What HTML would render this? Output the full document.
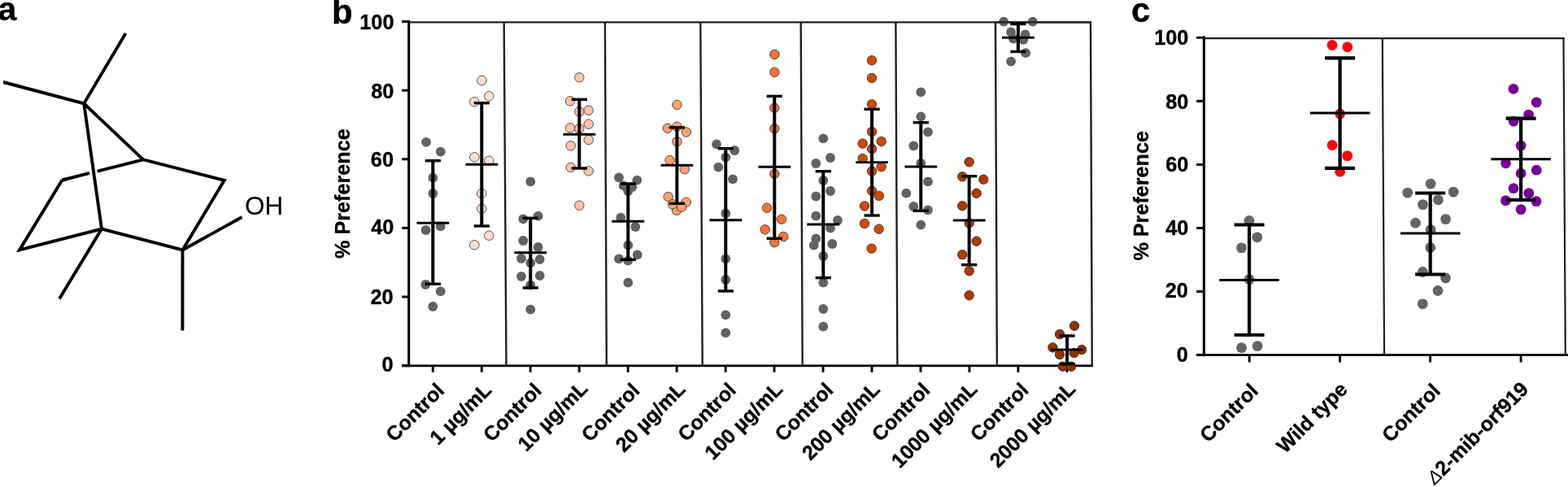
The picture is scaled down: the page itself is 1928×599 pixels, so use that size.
<!DOCTYPE html>
<html><head><meta charset="utf-8"><title>Figure</title>
<style>
html,body{margin:0;padding:0;background:#fff;overflow:hidden;}
svg{display:block;}
text{font-family:"Liberation Sans", Arial, Helvetica, sans-serif;fill:#000;}
text[font-weight="bold"]{stroke:#000;stroke-width:0.35px;stroke-linejoin:round;}
tspan{stroke-width:0;}
</style></head><body>
<svg width="1928" height="599" viewBox="0 0 1928 599">
<rect width="1928" height="599" fill="#fff"/>
<polyline points="4.00,101.00 103.20,127.30 176.10,196.30 275.80,221.80 224.50,307.50 125.00,281.50 24.00,307.50 76.40,221.50" fill="none" stroke="#000" stroke-width="3.9" stroke-linejoin="miter" stroke-miterlimit="10" stroke-linecap="butt"/>
<polyline points="76.40,221.50 110.20,212.96" fill="none" stroke="#000" stroke-width="3.9" stroke-linejoin="miter" stroke-miterlimit="10" stroke-linecap="butt"/>
<polyline points="119.60,210.58 176.10,196.30" fill="none" stroke="#000" stroke-width="3.9" stroke-linejoin="miter" stroke-miterlimit="10" stroke-linecap="butt"/>
<polyline points="154.50,41.00 103.20,127.30 125.00,281.50" fill="none" stroke="#000" stroke-width="3.9" stroke-linejoin="miter" stroke-miterlimit="10" stroke-linecap="butt"/>
<polyline points="125.00,281.50 73.00,367.50" fill="none" stroke="#000" stroke-width="3.9" stroke-linejoin="miter" stroke-miterlimit="10" stroke-linecap="butt"/>
<polyline points="224.50,307.50 224.40,406.40" fill="none" stroke="#000" stroke-width="3.9" stroke-linejoin="miter" stroke-miterlimit="10" stroke-linecap="butt"/>
<polyline points="224.50,307.50 297.50,267.00" fill="none" stroke="#000" stroke-width="3.9" stroke-linejoin="miter" stroke-miterlimit="10" stroke-linecap="butt"/>
<polyline points="76.40,221.50 81.39,220.24" fill="none" stroke="#000" stroke-width="3.9" stroke-linejoin="miter" stroke-miterlimit="10" stroke-linecap="butt"/>
<text x="-2.50" y="25.05" font-size="41" font-weight="bold" text-anchor="start" >a</text>
<text x="301.00" y="264.00" font-size="31.5" font-weight="normal" text-anchor="start" >OH</text>
<line x1="502.70" y1="25.00" x2="502.70" y2="451.20" stroke="#000" stroke-width="3.1" stroke-linecap="butt"/>
<line x1="494.20" y1="449.70" x2="502.70" y2="449.70" stroke="#000" stroke-width="3.0" stroke-linecap="butt"/>
<line x1="494.20" y1="365.06" x2="502.70" y2="365.06" stroke="#000" stroke-width="3.0" stroke-linecap="butt"/>
<line x1="494.20" y1="280.42" x2="502.70" y2="280.42" stroke="#000" stroke-width="3.0" stroke-linecap="butt"/>
<line x1="494.20" y1="195.78" x2="502.70" y2="195.78" stroke="#000" stroke-width="3.0" stroke-linecap="butt"/>
<line x1="494.20" y1="111.14" x2="502.70" y2="111.14" stroke="#000" stroke-width="3.0" stroke-linecap="butt"/>
<line x1="494.20" y1="26.50" x2="502.70" y2="26.50" stroke="#000" stroke-width="3.0" stroke-linecap="butt"/>
<line x1="494.20" y1="449.80" x2="1344.00" y2="449.80" stroke="#000" stroke-width="2.8" stroke-linecap="butt"/>
<line x1="532.30" y1="449.80" x2="532.30" y2="457.90" stroke="#000" stroke-width="2.9" stroke-linecap="butt"/>
<line x1="592.27" y1="449.80" x2="592.27" y2="457.90" stroke="#000" stroke-width="2.9" stroke-linecap="butt"/>
<line x1="652.24" y1="449.80" x2="652.24" y2="457.90" stroke="#000" stroke-width="2.9" stroke-linecap="butt"/>
<line x1="712.21" y1="449.80" x2="712.21" y2="457.90" stroke="#000" stroke-width="2.9" stroke-linecap="butt"/>
<line x1="772.18" y1="449.80" x2="772.18" y2="457.90" stroke="#000" stroke-width="2.9" stroke-linecap="butt"/>
<line x1="832.15" y1="449.80" x2="832.15" y2="457.90" stroke="#000" stroke-width="2.9" stroke-linecap="butt"/>
<line x1="892.12" y1="449.80" x2="892.12" y2="457.90" stroke="#000" stroke-width="2.9" stroke-linecap="butt"/>
<line x1="952.09" y1="449.80" x2="952.09" y2="457.90" stroke="#000" stroke-width="2.9" stroke-linecap="butt"/>
<line x1="1012.06" y1="449.80" x2="1012.06" y2="457.90" stroke="#000" stroke-width="2.9" stroke-linecap="butt"/>
<line x1="1072.03" y1="449.80" x2="1072.03" y2="457.90" stroke="#000" stroke-width="2.9" stroke-linecap="butt"/>
<line x1="1132.00" y1="449.80" x2="1132.00" y2="457.90" stroke="#000" stroke-width="2.9" stroke-linecap="butt"/>
<line x1="1191.97" y1="449.80" x2="1191.97" y2="457.90" stroke="#000" stroke-width="2.9" stroke-linecap="butt"/>
<line x1="1251.94" y1="449.80" x2="1251.94" y2="457.90" stroke="#000" stroke-width="2.9" stroke-linecap="butt"/>
<line x1="1311.91" y1="449.80" x2="1311.91" y2="457.90" stroke="#000" stroke-width="2.9" stroke-linecap="butt"/>
<line x1="504.20" y1="27.4" x2="1342.0" y2="27.4" stroke="#231f20" stroke-width="2.4"/>
<line x1="619.7" y1="27.4" x2="622.5" y2="449.0" stroke="#231f20" stroke-width="2.4"/>
<line x1="743.9" y1="27.4" x2="745.8" y2="449.0" stroke="#231f20" stroke-width="2.4"/>
<line x1="861.3" y1="27.4" x2="863.7" y2="449.0" stroke="#231f20" stroke-width="2.4"/>
<line x1="984.7" y1="27.4" x2="986.7" y2="449.0" stroke="#231f20" stroke-width="2.4"/>
<line x1="1101.4" y1="27.4" x2="1103.4" y2="449.0" stroke="#231f20" stroke-width="2.4"/>
<line x1="1224.0" y1="27.4" x2="1225.9" y2="449.0" stroke="#231f20" stroke-width="2.4"/>
<line x1="1341.0" y1="27.4" x2="1342.8" y2="449.0" stroke="#231f20" stroke-width="2.4"/>
<circle cx="524.0" cy="174.8" r="5.9" fill="#626262"/>
<circle cx="541.8" cy="186.6" r="5.9" fill="#626262"/>
<circle cx="532.3" cy="218.7" r="5.9" fill="#626262"/>
<circle cx="532.3" cy="238.0" r="5.9" fill="#626262"/>
<circle cx="523.6" cy="283.0" r="5.9" fill="#626262"/>
<circle cx="541.7" cy="278.3" r="5.9" fill="#626262"/>
<circle cx="523.3" cy="350.0" r="5.9" fill="#626262"/>
<circle cx="541.7" cy="358.3" r="5.9" fill="#626262"/>
<circle cx="532.3" cy="377.0" r="5.9" fill="#626262"/>
<circle cx="592.5" cy="99.0" r="5.75" fill="#fde0d3" stroke="#231f20" stroke-width="0.75"/>
<circle cx="601.3" cy="118.3" r="5.75" fill="#fde0d3" stroke="#231f20" stroke-width="0.75"/>
<circle cx="583.3" cy="125.3" r="5.75" fill="#fde0d3" stroke="#231f20" stroke-width="0.75"/>
<circle cx="583.3" cy="193.3" r="5.75" fill="#fde0d3" stroke="#231f20" stroke-width="0.75"/>
<circle cx="601.3" cy="197.7" r="5.75" fill="#fde0d3" stroke="#231f20" stroke-width="0.75"/>
<circle cx="592.3" cy="238.0" r="5.75" fill="#fde0d3" stroke="#231f20" stroke-width="0.75"/>
<circle cx="592.3" cy="256.7" r="5.75" fill="#fde0d3" stroke="#231f20" stroke-width="0.75"/>
<circle cx="601.3" cy="289.7" r="5.75" fill="#fde0d3" stroke="#231f20" stroke-width="0.75"/>
<circle cx="583.3" cy="301.3" r="5.75" fill="#fde0d3" stroke="#231f20" stroke-width="0.75"/>
<circle cx="652.3" cy="223.3" r="5.9" fill="#626262"/>
<circle cx="643.3" cy="269.3" r="5.9" fill="#626262"/>
<circle cx="661.7" cy="265.7" r="5.9" fill="#626262"/>
<circle cx="643.3" cy="296.0" r="5.9" fill="#626262"/>
<circle cx="661.7" cy="304.0" r="5.9" fill="#626262"/>
<circle cx="641.0" cy="318.0" r="5.9" fill="#626262"/>
<circle cx="663.7" cy="319.0" r="5.9" fill="#626262"/>
<circle cx="652.3" cy="323.3" r="5.9" fill="#626262"/>
<circle cx="641.0" cy="340.0" r="5.9" fill="#626262"/>
<circle cx="663.7" cy="339.0" r="5.9" fill="#626262"/>
<circle cx="652.3" cy="350.7" r="5.9" fill="#626262"/>
<circle cx="652.3" cy="380.7" r="5.9" fill="#626262"/>
<circle cx="712.3" cy="95.3" r="5.75" fill="#fdc4a8" stroke="#231f20" stroke-width="0.75"/>
<circle cx="701.0" cy="124.3" r="5.75" fill="#fdc4a8" stroke="#231f20" stroke-width="0.75"/>
<circle cx="712.3" cy="137.3" r="5.75" fill="#fdc4a8" stroke="#231f20" stroke-width="0.75"/>
<circle cx="723.7" cy="135.7" r="5.75" fill="#fdc4a8" stroke="#231f20" stroke-width="0.75"/>
<circle cx="723.7" cy="152.7" r="5.75" fill="#fdc4a8" stroke="#231f20" stroke-width="0.75"/>
<circle cx="701.0" cy="157.3" r="5.75" fill="#fdc4a8" stroke="#231f20" stroke-width="0.75"/>
<circle cx="712.3" cy="158.3" r="5.75" fill="#fdc4a8" stroke="#231f20" stroke-width="0.75"/>
<circle cx="723.7" cy="172.0" r="5.75" fill="#fdc4a8" stroke="#231f20" stroke-width="0.75"/>
<circle cx="701.7" cy="179.3" r="5.75" fill="#fdc4a8" stroke="#231f20" stroke-width="0.75"/>
<circle cx="701.7" cy="206.0" r="5.75" fill="#fdc4a8" stroke="#231f20" stroke-width="0.75"/>
<circle cx="723.7" cy="210.3" r="5.75" fill="#fdc4a8" stroke="#231f20" stroke-width="0.75"/>
<circle cx="712.3" cy="252.7" r="5.75" fill="#fdc4a8" stroke="#231f20" stroke-width="0.75"/>
<circle cx="761.0" cy="218.3" r="5.9" fill="#626262"/>
<circle cx="783.3" cy="221.7" r="5.9" fill="#626262"/>
<circle cx="766.7" cy="228.3" r="5.9" fill="#626262"/>
<circle cx="777.3" cy="230.0" r="5.9" fill="#626262"/>
<circle cx="772.3" cy="235.0" r="5.9" fill="#626262"/>
<circle cx="763.3" cy="267.7" r="5.9" fill="#626262"/>
<circle cx="781.3" cy="279.0" r="5.9" fill="#626262"/>
<circle cx="772.3" cy="301.7" r="5.9" fill="#626262"/>
<circle cx="761.0" cy="318.3" r="5.9" fill="#626262"/>
<circle cx="783.7" cy="313.3" r="5.9" fill="#626262"/>
<circle cx="772.3" cy="320.7" r="5.9" fill="#626262"/>
<circle cx="772.3" cy="347.7" r="5.9" fill="#626262"/>
<circle cx="832.4" cy="128.9" r="5.75" fill="#f9a070" stroke="#231f20" stroke-width="0.75"/>
<circle cx="820.8" cy="157.7" r="5.75" fill="#f9a070" stroke="#231f20" stroke-width="0.75"/>
<circle cx="832.4" cy="155.7" r="5.75" fill="#f9a070" stroke="#231f20" stroke-width="0.75"/>
<circle cx="843.8" cy="162.5" r="5.75" fill="#f9a070" stroke="#231f20" stroke-width="0.75"/>
<circle cx="832.4" cy="174.2" r="5.75" fill="#f9a070" stroke="#231f20" stroke-width="0.75"/>
<circle cx="823.5" cy="197.2" r="5.75" fill="#f9a070" stroke="#231f20" stroke-width="0.75"/>
<circle cx="841.8" cy="208.3" r="5.75" fill="#f9a070" stroke="#231f20" stroke-width="0.75"/>
<circle cx="821.7" cy="242.0" r="5.75" fill="#f9a070" stroke="#231f20" stroke-width="0.75"/>
<circle cx="843.7" cy="248.7" r="5.75" fill="#f9a070" stroke="#231f20" stroke-width="0.75"/>
<circle cx="832.0" cy="258.7" r="5.75" fill="#f9a070" stroke="#231f20" stroke-width="0.75"/>
<circle cx="827.0" cy="251.3" r="5.75" fill="#f9a070" stroke="#231f20" stroke-width="0.75"/>
<circle cx="838.0" cy="254.7" r="5.75" fill="#f9a070" stroke="#231f20" stroke-width="0.75"/>
<circle cx="881.0" cy="177.3" r="5.9" fill="#626262"/>
<circle cx="903.3" cy="185.0" r="5.9" fill="#626262"/>
<circle cx="892.3" cy="193.3" r="5.9" fill="#626262"/>
<circle cx="883.3" cy="205.7" r="5.9" fill="#626262"/>
<circle cx="901.0" cy="220.3" r="5.9" fill="#626262"/>
<circle cx="892.3" cy="262.3" r="5.9" fill="#626262"/>
<circle cx="892.3" cy="318.3" r="5.9" fill="#626262"/>
<circle cx="892.3" cy="344.0" r="5.9" fill="#626262"/>
<circle cx="892.3" cy="387.3" r="5.9" fill="#626262"/>
<circle cx="892.3" cy="409.3" r="5.9" fill="#626262"/>
<circle cx="952.4" cy="66.9" r="5.75" fill="#f47334" stroke="#231f20" stroke-width="0.75"/>
<circle cx="952.4" cy="88.8" r="5.75" fill="#f47334" stroke="#231f20" stroke-width="0.75"/>
<circle cx="952.3" cy="132.7" r="5.75" fill="#f47334" stroke="#231f20" stroke-width="0.75"/>
<circle cx="952.3" cy="158.3" r="5.75" fill="#f47334" stroke="#231f20" stroke-width="0.75"/>
<circle cx="952.3" cy="213.7" r="5.75" fill="#f47334" stroke="#231f20" stroke-width="0.75"/>
<circle cx="943.0" cy="255.7" r="5.75" fill="#f47334" stroke="#231f20" stroke-width="0.75"/>
<circle cx="961.0" cy="269.7" r="5.75" fill="#f47334" stroke="#231f20" stroke-width="0.75"/>
<circle cx="940.7" cy="282.3" r="5.75" fill="#f47334" stroke="#231f20" stroke-width="0.75"/>
<circle cx="963.3" cy="291.0" r="5.75" fill="#f47334" stroke="#231f20" stroke-width="0.75"/>
<circle cx="952.3" cy="298.3" r="5.75" fill="#f47334" stroke="#231f20" stroke-width="0.75"/>
<circle cx="1012.3" cy="170.3" r="5.9" fill="#626262"/>
<circle cx="1021.0" cy="194.0" r="5.9" fill="#626262"/>
<circle cx="1003.3" cy="201.0" r="5.9" fill="#626262"/>
<circle cx="1012.3" cy="222.0" r="5.9" fill="#626262"/>
<circle cx="1021.0" cy="235.0" r="5.9" fill="#626262"/>
<circle cx="1003.3" cy="241.5" r="5.9" fill="#626262"/>
<circle cx="1003.3" cy="265.7" r="5.9" fill="#626262"/>
<circle cx="1030.0" cy="271.0" r="5.9" fill="#626262"/>
<circle cx="1021.0" cy="280.7" r="5.9" fill="#626262"/>
<circle cx="1003.3" cy="293.3" r="5.9" fill="#626262"/>
<circle cx="1000.7" cy="301.7" r="5.9" fill="#626262"/>
<circle cx="1023.3" cy="300.0" r="5.9" fill="#626262"/>
<circle cx="1012.3" cy="315.0" r="5.9" fill="#626262"/>
<circle cx="1012.3" cy="347.7" r="5.9" fill="#626262"/>
<circle cx="1012.3" cy="380.0" r="5.9" fill="#626262"/>
<circle cx="1012.3" cy="401.7" r="5.9" fill="#626262"/>
<circle cx="1072.0" cy="74.3" r="5.75" fill="#cf4a05" stroke="#231f20" stroke-width="0.75"/>
<circle cx="1072.0" cy="96.0" r="5.75" fill="#cf4a05" stroke="#231f20" stroke-width="0.75"/>
<circle cx="1072.0" cy="128.3" r="5.75" fill="#cf4a05" stroke="#231f20" stroke-width="0.75"/>
<circle cx="1072.1" cy="161.9" r="5.75" fill="#cf4a05" stroke="#231f20" stroke-width="0.75"/>
<circle cx="1083.7" cy="173.9" r="5.75" fill="#cf4a05" stroke="#231f20" stroke-width="0.75"/>
<circle cx="1060.7" cy="176.6" r="5.75" fill="#cf4a05" stroke="#231f20" stroke-width="0.75"/>
<circle cx="1072.1" cy="183.1" r="5.75" fill="#cf4a05" stroke="#231f20" stroke-width="0.75"/>
<circle cx="1060.7" cy="195.0" r="5.75" fill="#cf4a05" stroke="#231f20" stroke-width="0.75"/>
<circle cx="1083.7" cy="205.1" r="5.75" fill="#cf4a05" stroke="#231f20" stroke-width="0.75"/>
<circle cx="1072.1" cy="210.6" r="5.75" fill="#cf4a05" stroke="#231f20" stroke-width="0.75"/>
<circle cx="1072.1" cy="234.8" r="5.75" fill="#cf4a05" stroke="#231f20" stroke-width="0.75"/>
<circle cx="1080.8" cy="240.9" r="5.75" fill="#cf4a05" stroke="#231f20" stroke-width="0.75"/>
<circle cx="1063.0" cy="253.4" r="5.75" fill="#cf4a05" stroke="#231f20" stroke-width="0.75"/>
<circle cx="1063.0" cy="275.0" r="5.75" fill="#cf4a05" stroke="#231f20" stroke-width="0.75"/>
<circle cx="1080.7" cy="281.7" r="5.75" fill="#cf4a05" stroke="#231f20" stroke-width="0.75"/>
<circle cx="1071.7" cy="305.7" r="5.75" fill="#cf4a05" stroke="#231f20" stroke-width="0.75"/>
<circle cx="1132.3" cy="113.3" r="5.9" fill="#626262"/>
<circle cx="1132.3" cy="143.3" r="5.9" fill="#626262"/>
<circle cx="1141.0" cy="162.3" r="5.9" fill="#626262"/>
<circle cx="1123.3" cy="179.3" r="5.9" fill="#626262"/>
<circle cx="1132.3" cy="200.7" r="5.9" fill="#626262"/>
<circle cx="1141.0" cy="223.3" r="5.9" fill="#626262"/>
<circle cx="1114.3" cy="237.7" r="5.9" fill="#626262"/>
<circle cx="1123.3" cy="254.0" r="5.9" fill="#626262"/>
<circle cx="1141.0" cy="258.3" r="5.9" fill="#626262"/>
<circle cx="1132.3" cy="276.7" r="5.9" fill="#626262"/>
<circle cx="1191.7" cy="199.3" r="5.75" fill="#ad3b00" stroke="#231f20" stroke-width="0.75"/>
<circle cx="1183.3" cy="217.3" r="5.75" fill="#ad3b00" stroke="#231f20" stroke-width="0.75"/>
<circle cx="1209.3" cy="220.7" r="5.75" fill="#ad3b00" stroke="#231f20" stroke-width="0.75"/>
<circle cx="1200.7" cy="237.7" r="5.75" fill="#ad3b00" stroke="#231f20" stroke-width="0.75"/>
<circle cx="1183.3" cy="253.2" r="5.75" fill="#ad3b00" stroke="#231f20" stroke-width="0.75"/>
<circle cx="1191.7" cy="274.5" r="5.75" fill="#ad3b00" stroke="#231f20" stroke-width="0.75"/>
<circle cx="1200.7" cy="296.7" r="5.75" fill="#ad3b00" stroke="#231f20" stroke-width="0.75"/>
<circle cx="1183.3" cy="313.3" r="5.75" fill="#ad3b00" stroke="#231f20" stroke-width="0.75"/>
<circle cx="1191.7" cy="333.3" r="5.75" fill="#ad3b00" stroke="#231f20" stroke-width="0.75"/>
<circle cx="1191.7" cy="363.3" r="5.75" fill="#ad3b00" stroke="#231f20" stroke-width="0.75"/>
<circle cx="1234.1" cy="26.7" r="5.9" fill="#626262"/>
<circle cx="1269.7" cy="26.7" r="5.9" fill="#626262"/>
<circle cx="1243.1" cy="39.5" r="5.9" fill="#626262"/>
<circle cx="1260.6" cy="42.5" r="5.9" fill="#626262"/>
<circle cx="1246.0" cy="47.7" r="5.9" fill="#626262"/>
<circle cx="1258.3" cy="48.9" r="5.9" fill="#626262"/>
<circle cx="1261.2" cy="65.2" r="5.9" fill="#626262"/>
<circle cx="1243.1" cy="75.7" r="5.9" fill="#626262"/>
<circle cx="1321.0" cy="400.7" r="5.75" fill="#933200" stroke="#231f20" stroke-width="0.75"/>
<circle cx="1303.0" cy="411.1" r="5.75" fill="#933200" stroke="#231f20" stroke-width="0.75"/>
<circle cx="1294.4" cy="427.4" r="5.75" fill="#933200" stroke="#231f20" stroke-width="0.75"/>
<circle cx="1330.1" cy="430.1" r="5.75" fill="#933200" stroke="#231f20" stroke-width="0.75"/>
<circle cx="1303.0" cy="436.1" r="5.75" fill="#933200" stroke="#231f20" stroke-width="0.75"/>
<circle cx="1320.7" cy="434.1" r="5.75" fill="#933200" stroke="#231f20" stroke-width="0.75"/>
<circle cx="1306.7" cy="450.8" r="5.75" fill="#933200" stroke="#231f20" stroke-width="0.75"/>
<circle cx="1317.1" cy="450.8" r="5.75" fill="#933200" stroke="#231f20" stroke-width="0.75"/>
<line x1="1225" y1="27.4" x2="1342.0" y2="27.4" stroke="#231f20" stroke-width="2.4"/>
<line x1="532.30" y1="197.70" x2="532.30" y2="349.30" stroke="#000" stroke-width="4.0" stroke-linecap="butt"/>
<line x1="522.70" y1="197.70" x2="541.90" y2="197.70" stroke="#000" stroke-width="3.4" stroke-linecap="butt"/>
<line x1="522.70" y1="349.30" x2="541.90" y2="349.30" stroke="#000" stroke-width="3.4" stroke-linecap="butt"/>
<line x1="512.40" y1="274.20" x2="552.20" y2="274.20" stroke="#000" stroke-width="2.9" stroke-linecap="butt"/>
<line x1="592.30" y1="126.70" x2="592.30" y2="278.00" stroke="#000" stroke-width="4.0" stroke-linecap="butt"/>
<line x1="582.70" y1="126.70" x2="601.90" y2="126.70" stroke="#000" stroke-width="3.4" stroke-linecap="butt"/>
<line x1="582.70" y1="278.00" x2="601.90" y2="278.00" stroke="#000" stroke-width="3.4" stroke-linecap="butt"/>
<line x1="572.40" y1="202.30" x2="612.20" y2="202.30" stroke="#000" stroke-width="2.9" stroke-linecap="butt"/>
<line x1="652.30" y1="268.30" x2="652.30" y2="354.00" stroke="#000" stroke-width="4.0" stroke-linecap="butt"/>
<line x1="642.70" y1="268.30" x2="661.90" y2="268.30" stroke="#000" stroke-width="3.4" stroke-linecap="butt"/>
<line x1="642.70" y1="354.00" x2="661.90" y2="354.00" stroke="#000" stroke-width="3.4" stroke-linecap="butt"/>
<line x1="632.40" y1="310.70" x2="672.20" y2="310.70" stroke="#000" stroke-width="2.9" stroke-linecap="butt"/>
<line x1="712.30" y1="122.30" x2="712.30" y2="207.00" stroke="#000" stroke-width="4.0" stroke-linecap="butt"/>
<line x1="702.70" y1="122.30" x2="721.90" y2="122.30" stroke="#000" stroke-width="3.4" stroke-linecap="butt"/>
<line x1="702.70" y1="207.00" x2="721.90" y2="207.00" stroke="#000" stroke-width="3.4" stroke-linecap="butt"/>
<line x1="692.40" y1="165.30" x2="732.20" y2="165.30" stroke="#000" stroke-width="2.9" stroke-linecap="butt"/>
<line x1="772.30" y1="226.00" x2="772.30" y2="319.30" stroke="#000" stroke-width="4.0" stroke-linecap="butt"/>
<line x1="762.70" y1="226.00" x2="781.90" y2="226.00" stroke="#000" stroke-width="3.4" stroke-linecap="butt"/>
<line x1="762.70" y1="319.30" x2="781.90" y2="319.30" stroke="#000" stroke-width="3.4" stroke-linecap="butt"/>
<line x1="752.40" y1="272.30" x2="792.20" y2="272.30" stroke="#000" stroke-width="2.9" stroke-linecap="butt"/>
<line x1="832.40" y1="156.80" x2="832.40" y2="250.30" stroke="#000" stroke-width="4.0" stroke-linecap="butt"/>
<line x1="822.80" y1="156.80" x2="842.00" y2="156.80" stroke="#000" stroke-width="3.4" stroke-linecap="butt"/>
<line x1="822.80" y1="250.30" x2="842.00" y2="250.30" stroke="#000" stroke-width="3.4" stroke-linecap="butt"/>
<line x1="812.50" y1="203.20" x2="852.30" y2="203.20" stroke="#000" stroke-width="2.9" stroke-linecap="butt"/>
<line x1="892.30" y1="182.70" x2="892.30" y2="358.00" stroke="#000" stroke-width="4.0" stroke-linecap="butt"/>
<line x1="882.70" y1="182.70" x2="901.90" y2="182.70" stroke="#000" stroke-width="3.4" stroke-linecap="butt"/>
<line x1="882.70" y1="358.00" x2="901.90" y2="358.00" stroke="#000" stroke-width="3.4" stroke-linecap="butt"/>
<line x1="872.40" y1="270.70" x2="912.20" y2="270.70" stroke="#000" stroke-width="2.9" stroke-linecap="butt"/>
<line x1="952.30" y1="118.30" x2="952.30" y2="293.30" stroke="#000" stroke-width="4.0" stroke-linecap="butt"/>
<line x1="942.70" y1="118.30" x2="961.90" y2="118.30" stroke="#000" stroke-width="3.4" stroke-linecap="butt"/>
<line x1="942.70" y1="293.30" x2="961.90" y2="293.30" stroke="#000" stroke-width="3.4" stroke-linecap="butt"/>
<line x1="932.40" y1="205.30" x2="972.20" y2="205.30" stroke="#000" stroke-width="2.9" stroke-linecap="butt"/>
<line x1="1012.30" y1="210.70" x2="1012.30" y2="341.70" stroke="#000" stroke-width="4.0" stroke-linecap="butt"/>
<line x1="1002.70" y1="210.70" x2="1021.90" y2="210.70" stroke="#000" stroke-width="3.4" stroke-linecap="butt"/>
<line x1="1002.70" y1="341.70" x2="1021.90" y2="341.70" stroke="#000" stroke-width="3.4" stroke-linecap="butt"/>
<line x1="992.40" y1="276.00" x2="1032.20" y2="276.00" stroke="#000" stroke-width="2.9" stroke-linecap="butt"/>
<line x1="1072.10" y1="134.30" x2="1072.10" y2="265.00" stroke="#000" stroke-width="4.0" stroke-linecap="butt"/>
<line x1="1062.50" y1="134.30" x2="1081.70" y2="134.30" stroke="#000" stroke-width="3.4" stroke-linecap="butt"/>
<line x1="1062.50" y1="265.00" x2="1081.70" y2="265.00" stroke="#000" stroke-width="3.4" stroke-linecap="butt"/>
<line x1="1052.20" y1="199.60" x2="1092.00" y2="199.60" stroke="#000" stroke-width="2.9" stroke-linecap="butt"/>
<line x1="1132.30" y1="150.70" x2="1132.30" y2="259.30" stroke="#000" stroke-width="4.0" stroke-linecap="butt"/>
<line x1="1122.70" y1="150.70" x2="1141.90" y2="150.70" stroke="#000" stroke-width="3.4" stroke-linecap="butt"/>
<line x1="1122.70" y1="259.30" x2="1141.90" y2="259.30" stroke="#000" stroke-width="3.4" stroke-linecap="butt"/>
<line x1="1112.40" y1="205.00" x2="1152.20" y2="205.00" stroke="#000" stroke-width="2.9" stroke-linecap="butt"/>
<line x1="1191.70" y1="216.70" x2="1191.70" y2="325.70" stroke="#000" stroke-width="4.0" stroke-linecap="butt"/>
<line x1="1182.10" y1="216.70" x2="1201.30" y2="216.70" stroke="#000" stroke-width="3.4" stroke-linecap="butt"/>
<line x1="1182.10" y1="325.70" x2="1201.30" y2="325.70" stroke="#000" stroke-width="3.4" stroke-linecap="butt"/>
<line x1="1171.80" y1="271.00" x2="1211.60" y2="271.00" stroke="#000" stroke-width="2.9" stroke-linecap="butt"/>
<line x1="1251.90" y1="29.50" x2="1251.90" y2="63.50" stroke="#000" stroke-width="4.0" stroke-linecap="butt"/>
<line x1="1242.30" y1="29.50" x2="1261.50" y2="29.50" stroke="#000" stroke-width="3.4" stroke-linecap="butt"/>
<line x1="1242.30" y1="63.50" x2="1261.50" y2="63.50" stroke="#000" stroke-width="3.4" stroke-linecap="butt"/>
<line x1="1232.00" y1="46.30" x2="1271.80" y2="46.30" stroke="#000" stroke-width="2.9" stroke-linecap="butt"/>
<line x1="1312.10" y1="413.00" x2="1312.10" y2="447.70" stroke="#000" stroke-width="4.0" stroke-linecap="butt"/>
<line x1="1302.50" y1="413.00" x2="1321.70" y2="413.00" stroke="#000" stroke-width="3.4" stroke-linecap="butt"/>
<line x1="1302.50" y1="447.70" x2="1321.70" y2="447.70" stroke="#000" stroke-width="3.4" stroke-linecap="butt"/>
<line x1="1292.20" y1="430.10" x2="1332.00" y2="430.10" stroke="#000" stroke-width="2.9" stroke-linecap="butt"/>
<text x="483.70" y="457.10" font-size="25.3" font-weight="bold" text-anchor="end" >0</text>
<text x="483.60" y="373.56" font-size="25.3" font-weight="bold" text-anchor="end" >20</text>
<text x="484.40" y="288.48" font-size="25.3" font-weight="bold" text-anchor="end" >40</text>
<text x="484.00" y="204.62" font-size="25.3" font-weight="bold" text-anchor="end" >60</text>
<text x="484.40" y="120.86" font-size="25.3" font-weight="bold" text-anchor="end" >80</text>
<text x="484.50" y="36.20" font-size="25.3" font-weight="bold" text-anchor="end" >100</text>
<text transform="translate(430.00,238.10) rotate(-90)" font-size="25.2" font-weight="bold" text-anchor="middle">% Preference</text>
<text x="408.10" y="28.50" font-size="42" font-weight="bold" text-anchor="start" >b</text>
<text transform="translate(547.70,481.90) rotate(-45)" font-size="25.0" font-weight="bold" text-anchor="end">Control</text>
<text transform="translate(605.87,481.30) rotate(-45)" font-size="25.0" font-weight="bold" text-anchor="end">1 µg/mL</text>
<text transform="translate(667.44,481.90) rotate(-45)" font-size="25.0" font-weight="bold" text-anchor="end">Control</text>
<text transform="translate(724.01,479.50) rotate(-45)" font-size="25.0" font-weight="bold" text-anchor="end">10 µg/mL</text>
<text transform="translate(787.98,481.90) rotate(-45)" font-size="25.0" font-weight="bold" text-anchor="end">Control</text>
<text transform="translate(844.15,480.30) rotate(-45)" font-size="25.0" font-weight="bold" text-anchor="end">20 µg/mL</text>
<text transform="translate(906.52,481.30) rotate(-45)" font-size="25.0" font-weight="bold" text-anchor="end">Control</text>
<text transform="translate(963.69,480.30) rotate(-45)" font-size="25.0" font-weight="bold" text-anchor="end">100 µg/mL</text>
<text transform="translate(1025.86,481.30) rotate(-45)" font-size="25.0" font-weight="bold" text-anchor="end">Control</text>
<text transform="translate(1083.23,480.50) rotate(-45)" font-size="25.0" font-weight="bold" text-anchor="end">200 µg/mL</text>
<text transform="translate(1145.00,481.30) rotate(-45)" font-size="25.0" font-weight="bold" text-anchor="end">Control</text>
<text transform="translate(1202.97,480.30) rotate(-45)" font-size="25.0" font-weight="bold" text-anchor="end">1000 µg/mL</text>
<text transform="translate(1266.14,481.30) rotate(-45)" font-size="25.0" font-weight="bold" text-anchor="end">Control</text>
<text transform="translate(1323.91,479.90) rotate(-45)" font-size="25.0" font-weight="bold" text-anchor="end">2000 µg/mL</text>
<line x1="1480.40" y1="44.60" x2="1480.40" y2="438.20" stroke="#000" stroke-width="3.1" stroke-linecap="butt"/>
<line x1="1471.20" y1="436.60" x2="1480.40" y2="436.60" stroke="#000" stroke-width="3.0" stroke-linecap="butt"/>
<line x1="1471.20" y1="358.54" x2="1480.40" y2="358.54" stroke="#000" stroke-width="3.0" stroke-linecap="butt"/>
<line x1="1471.20" y1="280.48" x2="1480.40" y2="280.48" stroke="#000" stroke-width="3.0" stroke-linecap="butt"/>
<line x1="1471.20" y1="202.42" x2="1480.40" y2="202.42" stroke="#000" stroke-width="3.0" stroke-linecap="butt"/>
<line x1="1471.20" y1="124.36" x2="1480.40" y2="124.36" stroke="#000" stroke-width="3.0" stroke-linecap="butt"/>
<line x1="1471.20" y1="46.30" x2="1480.40" y2="46.30" stroke="#000" stroke-width="3.0" stroke-linecap="butt"/>
<line x1="1471.20" y1="436.60" x2="1928.00" y2="436.60" stroke="#000" stroke-width="2.9" stroke-linecap="butt"/>
<line x1="1536.20" y1="436.60" x2="1536.20" y2="445.60" stroke="#000" stroke-width="2.9" stroke-linecap="butt"/>
<line x1="1647.50" y1="436.60" x2="1647.50" y2="445.60" stroke="#000" stroke-width="2.9" stroke-linecap="butt"/>
<line x1="1758.60" y1="436.60" x2="1758.60" y2="445.60" stroke="#000" stroke-width="2.9" stroke-linecap="butt"/>
<line x1="1870.10" y1="436.60" x2="1870.10" y2="445.60" stroke="#000" stroke-width="2.9" stroke-linecap="butt"/>
<line x1="1481.90" y1="47.1" x2="1923.6" y2="47.1" stroke="#231f20" stroke-width="2.2"/>
<line x1="1699.8" y1="47.1" x2="1702.1" y2="436.6" stroke="#231f20" stroke-width="2.2"/>
<line x1="1922.5" y1="47.1" x2="1924.8" y2="436.6" stroke="#231f20" stroke-width="2.2"/>
<circle cx="1536.0" cy="271.5" r="6.4" fill="#656565"/>
<circle cx="1545.8" cy="291.8" r="6.4" fill="#656565"/>
<circle cx="1526.5" cy="304.9" r="6.4" fill="#656565"/>
<circle cx="1536.0" cy="343.6" r="6.4" fill="#656565"/>
<circle cx="1526.6" cy="427.7" r="6.4" fill="#656565"/>
<circle cx="1546.1" cy="425.6" r="6.4" fill="#656565"/>
<circle cx="1638.0" cy="55.5" r="6.4" fill="#ff0000"/>
<circle cx="1656.8" cy="57.8" r="6.4" fill="#ff0000"/>
<circle cx="1647.7" cy="140.0" r="6.4" fill="#ff0000"/>
<circle cx="1638.1" cy="178.5" r="6.4" fill="#ff0000"/>
<circle cx="1656.7" cy="191.6" r="6.4" fill="#ff0000"/>
<circle cx="1647.7" cy="211.2" r="6.4" fill="#ff0000"/>
<circle cx="1759.1" cy="226.1" r="6.4" fill="#656565"/>
<circle cx="1730.7" cy="237.1" r="6.4" fill="#656565"/>
<circle cx="1787.2" cy="236.1" r="6.4" fill="#656565"/>
<circle cx="1768.5" cy="245.8" r="6.4" fill="#656565"/>
<circle cx="1749.5" cy="251.6" r="6.4" fill="#656565"/>
<circle cx="1740.5" cy="274.2" r="6.4" fill="#656565"/>
<circle cx="1777.6" cy="269.6" r="6.4" fill="#656565"/>
<circle cx="1759.1" cy="282.6" r="6.4" fill="#656565"/>
<circle cx="1758.8" cy="304.5" r="6.4" fill="#656565"/>
<circle cx="1749.3" cy="334.5" r="6.4" fill="#656565"/>
<circle cx="1777.5" cy="342.0" r="6.4" fill="#656565"/>
<circle cx="1768.0" cy="357.5" r="6.4" fill="#656565"/>
<circle cx="1749.3" cy="373.8" r="6.4" fill="#656565"/>
<circle cx="1860.9" cy="109.3" r="6.4" fill="#780096"/>
<circle cx="1889.2" cy="125.9" r="6.4" fill="#780096"/>
<circle cx="1879.6" cy="141.1" r="6.4" fill="#780096"/>
<circle cx="1861.1" cy="149.1" r="6.4" fill="#780096"/>
<circle cx="1870.1" cy="179.1" r="6.4" fill="#780096"/>
<circle cx="1851.5" cy="200.8" r="6.4" fill="#780096"/>
<circle cx="1889.2" cy="209.2" r="6.4" fill="#780096"/>
<circle cx="1870.1" cy="213.2" r="6.4" fill="#780096"/>
<circle cx="1861.0" cy="231.7" r="6.4" fill="#780096"/>
<circle cx="1879.8" cy="237.6" r="6.4" fill="#780096"/>
<circle cx="1851.4" cy="246.7" r="6.4" fill="#780096"/>
<circle cx="1889.0" cy="247.6" r="6.4" fill="#780096"/>
<circle cx="1870.1" cy="257.6" r="6.4" fill="#780096"/>
<line x1="1536.10" y1="276.50" x2="1536.10" y2="412.00" stroke="#000" stroke-width="4.2" stroke-linecap="butt"/>
<line x1="1517.60" y1="276.50" x2="1554.60" y2="276.50" stroke="#000" stroke-width="4.2" stroke-linecap="butt"/>
<line x1="1517.60" y1="412.00" x2="1554.60" y2="412.00" stroke="#000" stroke-width="4.2" stroke-linecap="butt"/>
<line x1="1499.30" y1="344.50" x2="1572.90" y2="344.50" stroke="#000" stroke-width="3.0" stroke-linecap="butt"/>
<line x1="1647.60" y1="71.30" x2="1647.60" y2="206.80" stroke="#000" stroke-width="4.2" stroke-linecap="butt"/>
<line x1="1629.10" y1="71.30" x2="1666.10" y2="71.30" stroke="#000" stroke-width="4.2" stroke-linecap="butt"/>
<line x1="1629.10" y1="206.80" x2="1666.10" y2="206.80" stroke="#000" stroke-width="4.2" stroke-linecap="butt"/>
<line x1="1610.80" y1="139.10" x2="1684.40" y2="139.10" stroke="#000" stroke-width="3.0" stroke-linecap="butt"/>
<line x1="1758.70" y1="237.50" x2="1758.70" y2="337.50" stroke="#000" stroke-width="4.2" stroke-linecap="butt"/>
<line x1="1740.20" y1="237.50" x2="1777.20" y2="237.50" stroke="#000" stroke-width="4.2" stroke-linecap="butt"/>
<line x1="1740.20" y1="337.50" x2="1777.20" y2="337.50" stroke="#000" stroke-width="4.2" stroke-linecap="butt"/>
<line x1="1721.90" y1="287.10" x2="1795.50" y2="287.10" stroke="#000" stroke-width="3.0" stroke-linecap="butt"/>
<line x1="1870.10" y1="145.70" x2="1870.10" y2="245.90" stroke="#000" stroke-width="4.2" stroke-linecap="butt"/>
<line x1="1851.60" y1="145.70" x2="1888.60" y2="145.70" stroke="#000" stroke-width="4.2" stroke-linecap="butt"/>
<line x1="1851.60" y1="245.90" x2="1888.60" y2="245.90" stroke="#000" stroke-width="4.2" stroke-linecap="butt"/>
<line x1="1833.30" y1="195.80" x2="1906.90" y2="195.80" stroke="#000" stroke-width="3.0" stroke-linecap="butt"/>
<text x="1460.90" y="444.70" font-size="25.3" font-weight="bold" text-anchor="end" >0</text>
<text x="1460.90" y="366.46" font-size="25.3" font-weight="bold" text-anchor="end" >20</text>
<text x="1461.30" y="288.72" font-size="25.3" font-weight="bold" text-anchor="end" >40</text>
<text x="1461.30" y="211.18" font-size="25.3" font-weight="bold" text-anchor="end" >60</text>
<text x="1461.30" y="133.84" font-size="25.3" font-weight="bold" text-anchor="end" >80</text>
<text x="1461.40" y="55.30" font-size="25.3" font-weight="bold" text-anchor="end" >100</text>
<text transform="translate(1411.90,240.80) rotate(-90)" font-size="25.2" font-weight="bold" text-anchor="middle">% Preference</text>
<text x="1391.10" y="27.30" font-size="42" font-weight="bold" text-anchor="start" >c</text>
<text transform="translate(1548.40,482.40) rotate(-45)" font-size="25.0" font-weight="bold" text-anchor="end">Control</text>
<text transform="translate(1658.30,480.40) rotate(-45)" font-size="25.0" font-weight="bold" text-anchor="end">Wild type</text>
<text transform="translate(1772.40,482.40) rotate(-45)" font-size="25.0" font-weight="bold" text-anchor="end">Control</text>
<text transform="translate(1880.90,480.20) rotate(-45)" font-size="25.0" font-weight="bold" text-anchor="end"><tspan font-style="italic" font-weight="normal" font-size="23">Δ</tspan>2-mib-orf919</text>
</svg>
</body></html>
